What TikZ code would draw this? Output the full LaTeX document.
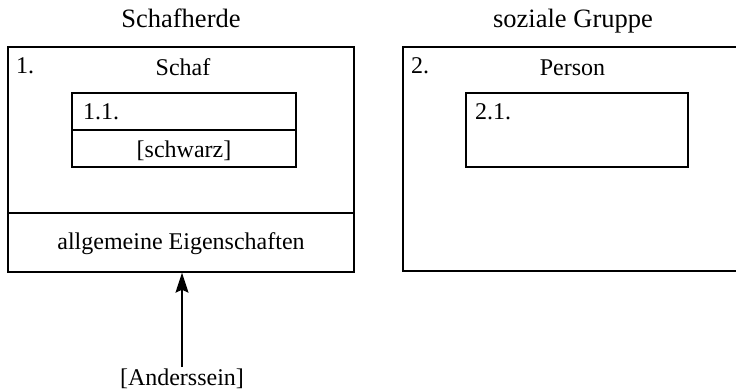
\documentclass[tikz,border=0pt]{standalone}
\usepackage{fontspec}
\setmainfont{Liberation Serif}
\usetikzlibrary{arrows.meta}
\begin{document}
\begin{tikzpicture}[x=1pt,y=-1pt,
  frame/.style={draw, line width=1.4pt, inner sep=0pt, rectangle},
  lbl/.style={inner sep=0pt, font=\fontsize{24}{28}\selectfont},
  title/.style={inner sep=0pt, font=\fontsize{26.5}{30}\selectfont},
  divider/.style={line width=1.4pt},
  pointer/.style={line width=1.1pt, -{Stealth[length=20pt,width=13pt,inset=3pt]}}]
  \useasboundingbox (0,0) rectangle (736,389);
  \clip (0,0) rectangle (736,389);
  % outer frames
  \node[frame, minimum width=346pt, minimum height=225pt] (herd) at (181,159.5) {};
  \node[frame, minimum width=357pt, minimum height=224pt] (group) at (581.5,159) {};
  % inner frames
  \node[frame, minimum width=224pt, minimum height=74pt] (sheep) at (184,130) {};
  \node[frame, minimum width=222pt, minimum height=74pt] (person) at (577,130) {};
  % dividing lines
  \coordinate (hdl) at (8,213);
  \coordinate (hdr) at (354,213);
  \draw[divider] (hdl) -- (hdr);
  \draw[divider] (sheep.west) -- (sheep.east);
  % captions
  \node[title, anchor=base] (tHerd) at (181,27) {Schafherde};
  \node[title, anchor=base] (tGroup) at (573,27) {soziale Gruppe};
  \node[lbl, anchor=base west] (n1) at (16,73) {1.};
  \node[lbl, anchor=base] (tSchaf) at (183,75) {Schaf};
  \node[lbl, anchor=base west] (n11) at (83,119) {1.1.};
  \node[lbl, anchor=base] (tSchwarz) at (184,157) {[schwarz]};
  \node[lbl, anchor=base west] (n2) at (411,73) {2.};
  \node[lbl, anchor=base] (tPerson) at (572.5,75) {Person};
  \node[lbl, anchor=base west] (n21) at (475,119) {2.1.};
  \node[lbl, anchor=base] (tAllg) at (181,249) {allgemeine Eigenschaften};
  \node[lbl, anchor=base, inner sep=1pt] (anders) at (182,385) {[Anderssein]};
  % arrow
  \draw[pointer] (anders.north) -- (anders.north |- herd.south);
\end{tikzpicture}
\end{document}
